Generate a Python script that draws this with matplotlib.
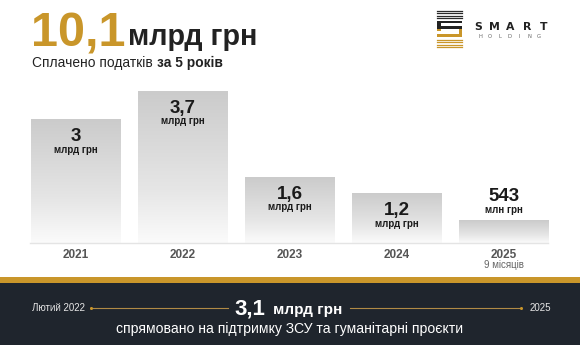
import numpy as np
import matplotlib.pyplot as plt
from matplotlib.colors import LinearSegmentedColormap
from matplotlib.patches import Rectangle

# data
years = ['2021', '2022', '2023', '2024', '2025']
values = [3.0, 3.7, 1.6, 1.2, 0.543]
value_labels = ['3', '3,7', '1,6', '1,2', '543']
unit_labels = ['млрд грн', 'млрд грн', 'млрд грн', 'млрд грн', 'млн грн']
year_notes = ['', '', '', '', '9 місяців']

total_label = '10,1'
total_unit = 'млрд грн'
subtitle_normal = 'Сплачено податків '
subtitle_bold = 'за 5 років'
war_start = 'Лютий 2022'
war_end = '2025'
war_value = '3,1'
war_unit = 'млрд грн'
war_text = 'спрямовано на підтримку ЗСУ та гуманітарні проєкти'

GOLD = '#c9962a'
DARK = '#1f252d'
W, H = 580, 345

plt.rcParams['font.family'] = ['Liberation Sans', 'DejaVu Sans']

fig = plt.figure(figsize=(5.8, 3.45), dpi=100)
fig.patch.set_facecolor('white')

# background axes in pixel coords (y down)
bg = fig.add_axes([0, 0, 1, 1])
bg.set_xlim(0, W)
bg.set_ylim(H, 0)
bg.axis('off')

# header
bg.text(31, 46, total_label, color=GOLD, fontsize=35, fontweight='bold', va='baseline')
bg.text(128, 45, total_unit, color='#222222', fontsize=20.7, fontweight='bold', va='baseline')
t = bg.text(32, 67, subtitle_normal, color='#222222', fontsize=9.9, va='baseline')
fig.canvas.draw()
bb = t.get_window_extent()
bg.text(32 + bb.width, 67, subtitle_bold, color='#222222', fontsize=9.9,
        fontweight='bold', va='baseline')

# logo
for yy in [10.5, 13, 15.5, 18]:
    bg.plot([437, 462], [yy, yy], color='#2a2a2a', lw=0.9)
for yy in [39.5, 42, 44.5, 47]:
    bg.plot([437, 462], [yy, yy], color=GOLD, lw=0.9)
bg.add_patch(Rectangle((437, 20.5), 25, 2.8, color='#222222', lw=0))
bg.add_patch(Rectangle((437, 20.5), 3.5, 8, color='#222222', lw=0))
bg.add_patch(Rectangle((437, 26.3), 25, 2.7, color='#222222', lw=0))
bg.add_patch(Rectangle((458.5, 29), 3.5, 8, color=GOLD, lw=0))
bg.add_patch(Rectangle((437, 34.3), 25, 2.7, color=GOLD, lw=0))
bg.add_patch(Rectangle((437, 29), 3.5, 2.2, color=GOLD, lw=0))
for k, ch in enumerate('SMART'):
    bg.text(478 + k * 16.3, 27, ch, color='#222222', fontsize=7.8,
            fontfamily='DejaVu Sans', fontweight='bold', ha='center', va='center')
for k, ch in enumerate('HOLDING'):
    bg.text(480 + k * 9.8, 37, ch, color='#666666', fontsize=3.8,
            fontfamily='DejaVu Sans', ha='center', va='center')

# bottom band
bg.add_patch(Rectangle((0, 277), W, 6, color=GOLD, lw=0))
bg.add_patch(Rectangle((0, 283), W, H - 283, color=DARK, lw=0))
bg.text(85, 308, war_start, color='#e6e6e6', fontsize=7, ha='right', va='center')
bg.plot([91, 228], [308, 308], color='#b08a45', lw=0.8)
bg.plot([350, 521], [308, 308], color='#b08a45', lw=0.8)
bg.plot([91, 521], [308, 308], 'o', color=GOLD, ms=2.2, mec='none')
bg.text(530, 308, war_end, color='#e6e6e6', fontsize=7, ha='left', va='center')
bg.text(234, 314, war_value, color='white', fontsize=16, fontweight='bold', va='baseline')
bg.text(273, 314, war_unit, color='white', fontsize=11, fontweight='bold', va='baseline')
bg.text(290, 329, war_text, color='white', fontsize=10.1, ha='center', va='center')

# bars
ax = fig.add_axes([22.5 / W, (H - 243) / H, 535 / W, 152 / H])
ax.axis('off')

cmap = LinearSegmentedColormap.from_list(
    'fade', [(0, '#fbfbfb'), (0.35, '#e6e6e6'), (1, '#cbcbcb')])
grad = np.linspace(0, 1, 256).reshape(-1, 1)

for i, v in enumerate(values):
    ax.imshow(grad, extent=(i - 0.42, i + 0.42, 0, v), origin='lower',
              cmap=cmap, aspect='auto', vmin=0, vmax=1)
    if v >= 1:
        off_val, off_unit = -17, -30
    else:
        off_val, off_unit = 24, 11
    ax.annotate(value_labels[i], xy=(i, v), xytext=(0, off_val),
                textcoords='offset pixels', ha='center', va='center',
                fontsize=13.5, fontweight='bold', color='#1a1a1a')
    ax.annotate(unit_labels[i], xy=(i, v), xytext=(0, off_unit),
                textcoords='offset pixels', ha='center', va='center',
                fontsize=7, fontweight='bold', color='#1a1a1a')
    ax.annotate(years[i], xy=(i, 0), xytext=(0, -12),
                textcoords='offset pixels', ha='center', va='center',
                fontsize=8.5, fontweight='bold', color='#555555',
                annotation_clip=False)
    if year_notes[i]:
        ax.annotate(year_notes[i], xy=(i, 0), xytext=(0, -22),
                    textcoords='offset pixels', ha='center', va='center',
                    fontsize=7, color='#666666', annotation_clip=False)

ax.plot([-0.43, 4.41], [0, 0], color='#e4e4e4', lw=1, clip_on=False)
ax.set_xlim(-0.5, 4.5)
ax.set_ylim(0, 3.7)

fig.savefig('out.png', dpi=100)
